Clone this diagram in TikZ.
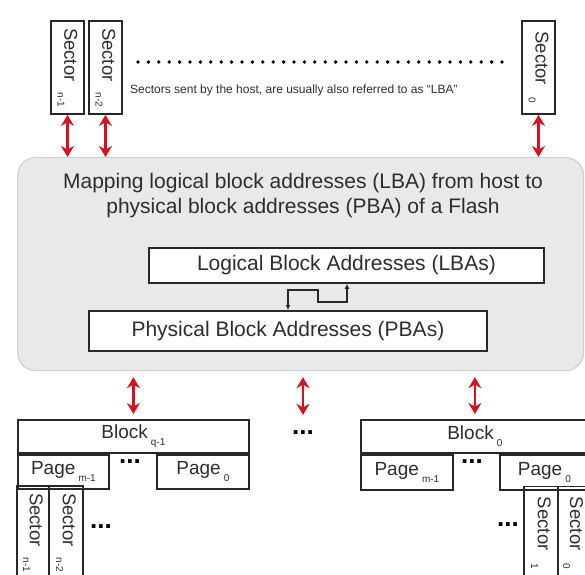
\documentclass[tikz,border=0pt]{standalone}
\usepackage{fontspec}
\setmainfont{Liberation Sans}
\usetikzlibrary{arrows.meta,calc}

\definecolor{maparea}{RGB}{233,233,233}
\definecolor{mapline}{RGB}{208,208,208}
\definecolor{linkred}{RGB}{212,18,32}
\definecolor{boxline}{RGB}{40,40,40}
\definecolor{txtgray}{RGB}{45,45,45}

\newcommand{\lowsub}[1]{\raisebox{-0.7ex}{\fontsize{10}{10}\selectfont #1}}

\tikzset{
  sector/.style={draw=boxline, line width=1.8pt, rotate=-90, minimum width=93pt, minimum height=33pt, inner sep=0pt, text=txtgray, font=\fontsize{18.5}{20}\selectfont},
  cell/.style={draw=boxline, line width=1.8pt, anchor=north west, inner sep=0pt, text=txtgray, font=\fontsize{19}{22}\selectfont},
  addr/.style={draw=boxline, fill=white, line width=1.8pt, anchor=north west, inner sep=0pt, text=txtgray, font=\fontsize{21}{25}\selectfont},
  redlink/.style={{Stealth[length=11pt,width=13pt]}-{Stealth[length=11pt,width=13pt]}, draw=linkred, line width=2.6pt},
  dots/.style={inner sep=0pt, font=\fontsize{26}{26}\selectfont\bfseries}
}

\begin{document}
\begin{tikzpicture}[x=1pt, y=-1pt]
  \useasboundingbox (0,0) rectangle (585,574);
  \clip (0,0) rectangle (585,574);

  \coordinate (sectN1)  at (67.5,  67.5);
  \coordinate (sectN2)  at (105.5, 67.5);
  \coordinate (sect0)   at (538.5, 67.5);
  \coordinate (dotsL)   at (138,   62);
  \coordinate (dotsR)   at (503,   62);
  \coordinate (mapNW)   at (17,    157);
  \coordinate (lbaNW)   at (148,   247);
  \coordinate (pbaNW)   at (88,    310);
  \coordinate (lkA)     at (288,   290);
  \coordinate (lkB)     at (318,   302);
  \coordinate (lkC)     at (347,   302);
  \coordinate (blkQ)    at (17,    419);
  \coordinate (blk0)    at (360,   419);

  % host side
  \node[sector] (SN1) at (sectN1) {Sector\hspace{11pt}\lowsub{n-1}};
  \node[sector] (SN2) at (sectN2) {Sector\hspace{11pt}\lowsub{n-2}};
  \node[sector] (S0)  at (sect0)  {Sector\hspace{13pt}\lowsub{0}};
  \draw[line width=3.8pt, line cap=round, dash pattern=on 0pt off 10.4pt] (dotsL) -- (dotsR);
  \node[anchor=west, inner sep=0pt, text=txtgray, font=\fontsize{12}{14}\selectfont] (NOTE) at (130, 90) {Sectors sent by the host, are usually also referred to as ``LBA''};

  % mapping
  \node[draw=mapline, fill=maparea, line width=1.2pt, rounded corners=18pt, minimum width=566pt, minimum height=213pt, anchor=north west] (MAP) at (mapNW) {};
  \node[align=center, text=txtgray, font=\fontsize{21}{25}\selectfont] (MAPTXT) at (303, 196) {Mapping logical block addresses (LBA) from host to\\physical block addresses (PBA) of a Flash};
  \node[addr, minimum width=395pt, minimum height=35pt] (LBA) at (lbaNW) {Logical Block Addresses (LBAs)};
  \node[addr, minimum width=398pt, minimum height=40pt] (PBA) at (pbaNW) {Physical Block Addresses (PBAs)};
  \draw[{Latex[length=5pt,width=5pt]}-{Latex[length=5pt,width=5pt]}, draw=boxline, line width=1.8pt] (lkA |- PBA.north) -- (lkA) -| (lkB) -- (lkC) -- (lkC |- LBA.south);

  \draw[redlink] (SN1.east) -- (SN1.east |- MAP.north);
  \draw[redlink] (SN2.east) -- (SN2.east |- MAP.north);
  \draw[redlink] (S0.east)  -- (S0.east |- MAP.north);

  % flash side
  \node[cell, minimum width=231pt, minimum height=33pt] (BLKQ) at (blkQ) {Block\,\lowsub{q-1}};
  \node[cell, minimum width=91pt, minimum height=34pt] (PGQM) at (BLKQ.south west) {Page\,\lowsub{m-1}};
  \node[cell, minimum width=92pt, minimum height=34pt, anchor=north east] (PGQ0) at (BLKQ.south east) {Page\,\lowsub{0}};
  \node[dots] (DOTQP) at (130, 462) {...};
  \node[sector, minimum height=32pt] (SQN1) at (33, 532.5) {Sector\hspace{11pt}\lowsub{n-1}};
  \node[sector, minimum height=34pt] (SQN2) at (66, 532.5) {Sector\hspace{11pt}\lowsub{n-2}};
  \node[dots] (DOTQS) at (101, 527) {...};

  \node[cell, minimum width=228pt, minimum height=33pt] (BLK0) at (blk0) {Block\,\lowsub{0}};
  \node[cell, minimum width=92pt, minimum height=35pt] (PG0M) at (BLK0.south west) {Page\,\lowsub{m-1}};
  \node[cell, minimum width=89pt, minimum height=35pt, anchor=north east] (PG00) at (BLK0.south east) {Page\,\lowsub{0}};
  \node[dots] (DOT0P) at (472, 462) {...};
  \node[sector, minimum height=34pt] (S01) at (541, 533) {Sector\hspace{13pt}\lowsub{1}};
  \node[sector, minimum height=30pt] (S00) at (573, 533) {Sector\hspace{13pt}\lowsub{0}};
  \node[dots] (DOT0S) at (508, 525) {...};

  \node[dots] (DOTB) at (303, 433) {...};
  \draw[redlink, shorten <=6pt, shorten >=5pt] (MAP.south -| BLKQ.north) -- (BLKQ.north);
  \draw[redlink, shorten <=6pt, shorten >=16pt] (MAP.south -| DOTB.north) -- (DOTB.north);
  \draw[redlink, shorten <=6pt, shorten >=5pt] (MAP.south -| BLK0.north) -- (BLK0.north);
\end{tikzpicture}
\end{document}
